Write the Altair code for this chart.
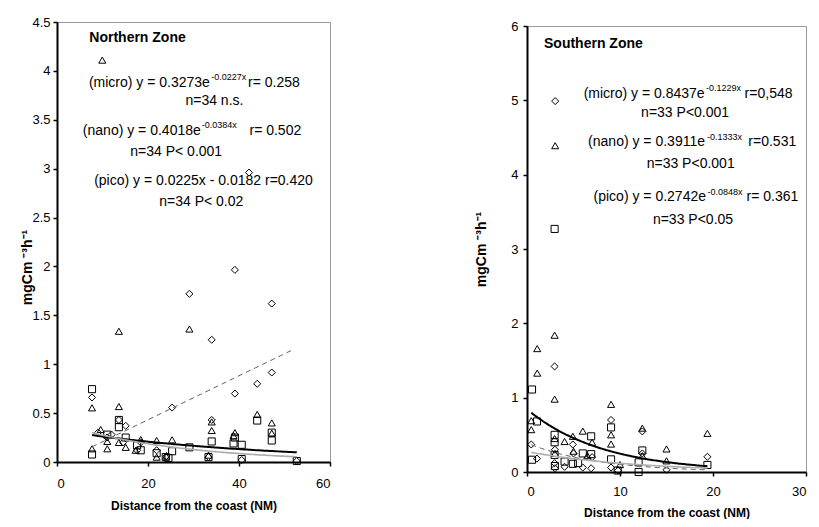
import altair as alt
import pandas as pd

FONT = "Liberation Sans"

# ---------------- Northern Zone data (distance NM, mgC m-3 h-1) ----------------
n_micro_x = [7.7, 9.0, 13.6, 15.1, 25.3, 29.1, 34.0, 34.0, 39.1, 39.1, 44.0, 47.2, 47.2, 42.2,
             18.4, 21.9, 12.0, 17.6, 24.0, 33.3, 40.6, 52.7, 11.0, 14.5]
n_micro_y = [0.66, 0.30, 0.43, 0.37, 0.557, 1.72, 1.25, 0.43, 1.965, 0.70, 0.80, 1.62, 0.915, 2.96,
             0.20, 0.12, 0.28, 0.12, 0.06, 0.05, 0.02, 0.01, 0.25, 0.20]
n_nano_x = [9.95, 13.6, 29.1, 7.7, 13.6, 44.0, 47.2, 47.2, 34.0, 34.0, 9.6, 11.05, 25.3, 21.9,
            18.4, 38.8, 21.9, 7.7, 17.3, 13.6, 15.1, 24.0, 33.3, 39.1, 11.05]
n_nano_y = [4.11, 1.337, 1.36, 0.554, 0.567, 0.486, 0.40, 0.295, 0.322, 0.41, 0.332, 0.135, 0.227, 0.22,
            0.23, 0.27, 0.05, 0.135, 0.12, 0.20, 0.15, 0.06, 0.07, 0.30, 0.21]
n_pico_x = [7.7, 13.6, 13.6, 44.0, 47.2, 34.0, 38.8, 40.6, 29.1, 11.05, 15.1, 7.7, 21.9, 25.3,
            40.6, 52.7, 33.3, 23.9, 17.6, 47.2, 39.1, 18.4, 24.5]
n_pico_y = [0.745, 0.43, 0.356, 0.424, 0.22, 0.21, 0.19, 0.176, 0.15, 0.28, 0.25, 0.077, 0.09, 0.11,
            0.03, 0.01, 0.05, 0.05, 0.17, 0.30, 0.25, 0.12, 0.04]

# ---------------- Southern Zone data ----------------
s_micro_x = [3.03, 2.97, 9.04, 12.4, 19.4, 0.46, 1.07, 4.93, 6.9, 4.04, 6.0, 9.04, 15.0, 2.97,
             7.0, 9.8, 12.4, 3.0, 3.0, 5.0]
s_micro_y = [4.99, 1.42, 0.70, 0.546, 0.205, 0.37, 0.18, 0.37, 0.05, 0.07, 0.06, 0.06, 0.03, 0.12,
             0.20, 0.02, 0.25, 0.30, 0.05, 0.25]
s_nano_x = [3.03, 1.1, 1.1, 2.97, 2.97, 9.04, 9.04, 9.04, 12.4, 15.0, 19.4, 0.46, 0.46, 4.04,
            4.93, 6.0, 2.97, 15.0, 7.0, 12.4, 3.0, 6.5, 10.0, 5.0]
s_nano_y = [4.39, 1.66, 1.33, 1.84, 0.98, 0.91, 0.50, 0.376, 0.59, 0.31, 0.52, 0.69, 0.57, 0.41,
            0.48, 0.55, 0.45, 0.15, 0.40, 0.22, 0.25, 0.22, 0.10, 0.28]
s_pico_x = [2.97, 0.54, 0.54, 1.07, 2.97, 2.97, 2.97, 6.9, 9.04, 9.04, 12.4, 12.0, 12.0, 19.4,
            6.0, 4.93, 6.9, 4.04, 9.75, 3.0, 5.5]
s_pico_y = [3.27, 1.11, 0.165, 0.68, 0.50, 0.40, 0.23, 0.48, 0.60, 0.17, 0.29, 0.13, 0.0, 0.095,
            0.25, 0.11, 0.24, 0.14, 0.02, 0.08, 0.12]

# ---------------- fitted curves (coefficients printed on the chart) ----------------
fit_zone = ["N", "N", "N", "S", "S", "S"]
fit_class = ["micro", "nano", "pico", "micro", "nano", "pico"]
fit_kind = ["exp", "exp", "lin", "exp", "exp", "exp"]
fit_a = [0.3273, 0.4018, 0.0225, 0.8437, 0.3911, 0.2742]
fit_b = [-0.0227, -0.0384, -0.0182, -0.1229, -0.1333, -0.0848]
fit_x0 = [7.7, 7.7, 7.7, 0.46, 0.46, 0.46]
fit_x1 = [52.7, 52.7, 51.7, 19.4, 19.4, 19.4]

# ---------------- annotation text ----------------
n_title = "Northern Zone"
s_title = "Southern Zone"
n_pre = ["(micro) y = 0.3273e", "(nano) y = 0.4018e"]
n_sup = ["-0.0227x", "-0.0384x"]
n_post = ["r= 0.258", "r= 0.502"]
n_full = ["(pico) y = 0.0225x - 0.0182 r=0.420"]
n_stats = ["n=34 n.s.", "n=34 P< 0.001", "n=34 P< 0.02"]
s_pre = ["(micro) y = 0.8437e", "(nano) y = 0.3911e", "(pico) y = 0.2742e"]
s_sup = ["-0.1229x", "-0.1333x", "-0.0848x"]
s_post = ["r=0,548", "r=0.531", "r= 0.361"]
s_stats = ["n=33 P<0.001", "n=33 P<0.001", "n=33 P<0.05"]

# annotation anchors (data units)
n_title_pos = (7.1, 4.34)
n_pre_pos = [(33.6, 3.88), (31.6, 3.39)]
n_sup_pos = [(33.9, 3.935), (31.8, 3.445)]
n_post_pos = [(42.0, 3.88), (42.3, 3.39)]
n_full_pos = [(32.2, 2.87)]
n_stats_pos = [(34.6, 3.69), (26.2, 3.175), (31.7, 2.66)]
s_title_pos = (1.83, 5.76)
s_pre_pos = [(19.1, 5.09), (19.14, 4.44), (19.25, 3.70)]
s_sup_pos = [(19.25, 5.16), (19.35, 4.51), (19.4, 3.77)]
s_post_pos = [(23.4, 5.09), (23.8, 4.44), (23.6, 3.70)]
s_stats_pos = [(17.0, 4.83), (17.6, 4.15), (17.85, 3.39)]


def pts(cls, xs, ys):
    return pd.DataFrame({"x": xs, "y": ys, "cls": cls})


def txt(texts, pos):
    return pd.DataFrame({"t": texts, "x": [p[0] for p in pos], "y": [p[1] for p in pos]})


shape_scale = alt.Scale(domain=["micro", "nano", "pico"],
                        range=["diamond", "triangle-up", "square"])

line_style = {
    ("N", "micro"): dict(color="black", strokeWidth=2),
    ("N", "nano"): dict(color="#aaaaaa", strokeWidth=1.6),
    ("N", "pico"): dict(color="#555555", strokeWidth=1, strokeDash=[5, 4]),
    ("S", "micro"): dict(color="black", strokeWidth=2),
    ("S", "nano"): dict(color="#555555", strokeWidth=1, strokeDash=[5, 4]),
    ("S", "pico"): dict(color="#b0b0b0", strokeWidth=1.6),
}


def panel(zone, pdata, xenc, yenc, texts):
    layers = []
    p = (alt.Chart(pdata)
         .mark_point(filled=False, color="black", strokeWidth=1, size=50, opacity=1)
         .encode(x=xenc, y=yenc,
                 shape=alt.Shape("cls:N", scale=shape_scale, legend=None)))
    layers.append(p)
    for i in range(len(fit_zone)):
        if fit_zone[i] != zone:
            continue
        step = (fit_x1[i] - fit_x0[i]) / 120.0
        if fit_kind[i] == "exp":
            expr = f"{fit_a[i]} * exp({fit_b[i]} * datum.x)"
        else:
            expr = f"{fit_a[i]} * datum.x + ({fit_b[i]})"
        ln = (alt.Chart(alt.sequence(fit_x0[i], fit_x1[i] + step / 2, step, as_="x"))
              .transform_calculate(y=expr)
              .mark_line(**line_style[(zone, fit_class[i])])
              .encode(x=xenc, y=yenc))
        layers.append(ln)
    for df, kw in texts:
        layers.append(alt.Chart(df).mark_text(font=FONT, color="black", baseline="middle", **kw)
                      .encode(x=xenc, y=yenc, text="t:N"))
    return alt.layer(*layers)


# ---------- Northern ----------
n_pts = pd.concat([pts("micro", n_micro_x, n_micro_y),
                   pts("nano", n_nano_x, n_nano_y),
                   pts("pico", n_pico_x, n_pico_y)])
nx = alt.X("x:Q", scale=alt.Scale(domain=[0, 60], nice=False),
           axis=alt.Axis(values=[0, 20, 40, 60], title="Distance from the coast (NM)",
                         labelPadding=11, titlePadding=10))
ny = alt.Y("y:Q", scale=alt.Scale(domain=[0, 4.5], nice=False),
           axis=alt.Axis(values=[0, 0.5, 1, 1.5, 2, 2.5, 3, 3.5, 4, 4.5],
                         labelExpr="datum.value + ''", title="mgCm ⁻³h⁻¹",
                         labelPadding=3, titlePadding=-3, titleY=245))
n_texts = [
    (txt([n_title], [n_title_pos]), dict(align="left", fontSize=14, fontWeight="bold")),
    (txt(n_pre, n_pre_pos), dict(align="right", fontSize=14)),
    (txt(n_sup, n_sup_pos), dict(align="left", fontSize=9)),
    (txt(n_post, n_post_pos), dict(align="left", fontSize=14)),
    (txt(n_full, n_full_pos), dict(align="center", fontSize=14)),
    (txt(n_stats, n_stats_pos), dict(align="center", fontSize=14)),
]
left = panel("N", n_pts, nx, ny, n_texts).properties(width=273, height=440)

# ---------- Southern ----------
s_pts = pd.concat([pts("micro", s_micro_x, s_micro_y),
                   pts("nano", s_nano_x, s_nano_y),
                   pts("pico", s_pico_x, s_pico_y)])
sx = alt.X("x:Q", scale=alt.Scale(domain=[0, 30], nice=False),
           axis=alt.Axis(values=[0, 10, 20, 30], title="Distance from the coast (NM)",
                         labelPadding=9, titlePadding=9))
sy = alt.Y("y:Q", scale=alt.Scale(domain=[0, 6], nice=False),
           axis=alt.Axis(values=[0, 1, 2, 3, 4, 5, 6], title="mgCm ⁻³h⁻¹",
                         labelPadding=5, titlePadding=22))
s_texts = [
    (txt([s_title], [s_title_pos]), dict(align="left", fontSize=14, fontWeight="bold")),
    (txt(s_pre, s_pre_pos), dict(align="right", fontSize=14)),
    (txt(s_sup, s_sup_pos), dict(align="left", fontSize=9)),
    (txt(s_post, s_post_pos), dict(align="left", fontSize=14)),
    (txt(s_stats, s_stats_pos), dict(align="center", fontSize=14)),
]
right = panel("S", s_pts, sx, sy, s_texts).properties(width=279, height=446)

# invisible zero-size spacer that drops the southern panel a few pixels lower
spacer = (alt.Chart(pd.DataFrame({"v": [0]}))
          .mark_rule(strokeWidth=0, opacity=0)
          .encode(x=alt.value(0), x2=alt.value(0), y=alt.value(0), y2=alt.value(0))
          .properties(width=1, height=1, view=alt.ViewBackground(stroke="transparent")))

right_col = alt.vconcat(spacer, right, spacing=-5)

chart = (alt.hconcat(left, right_col, spacing=142)
         .properties(padding={"left": 12, "top": 7, "right": 0, "bottom": 0},
                     background="white")
         .configure_view(stroke="#999999", strokeWidth=1)
         .configure_axis(labelFont=FONT, labelFontSize=13, labelColor="black",
                         titleFont=FONT, titleFontWeight="bold", titleColor="black",
                         domainColor="black", domainWidth=2,
                         tickColor="black", tickWidth=1.5, tickSize=4, grid=False)
         .configure_axisX(titleFontSize=12)
         .configure_axisY(titleFontSize=14))

chart.save("out.html", embed_options={"renderer": "svg", "actions": False})
